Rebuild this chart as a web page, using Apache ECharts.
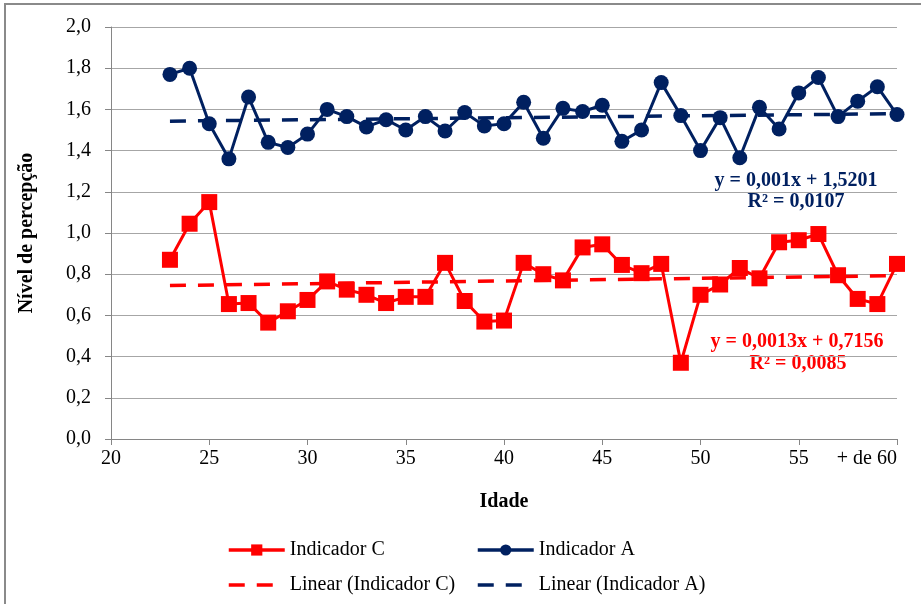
<!DOCTYPE html>
<html>
<head>
<meta charset="utf-8">
<script src="https://cdn.jsdelivr.net/npm/echarts@6/dist/echarts.min.js"></script>
<style>
html,body{margin:0;padding:0;background:#fff;}
#chart{width:921px;height:604px;}
</style>
</head>
<body>
<div id="chart"></div>
<script>
const ages = [23,24,25,26,27,28,29,30,31,32,33,34,35,36,37,38,39,40,41,42,43,44,45,46,47,48,49,50,51,52,53,54,55,56,57,58,59,60];
const indicadorA = [1.77,1.80,1.53,1.36,1.66,1.44,1.415,1.48,1.60,1.565,1.515,1.55,1.50,1.565,1.495,1.585,1.52,1.53,1.635,1.46,1.605,1.59,1.62,1.445,1.50,1.73,1.57,1.40,1.56,1.365,1.61,1.505,1.68,1.755,1.565,1.64,1.71,1.575];
const indicadorC = [0.87,1.045,1.15,0.655,0.66,0.565,0.62,0.675,0.765,0.725,0.70,0.66,0.69,0.69,0.855,0.67,0.57,0.575,0.855,0.80,0.77,0.93,0.945,0.845,0.805,0.85,0.37,0.70,0.75,0.83,0.78,0.955,0.965,0.995,0.795,0.68,0.655,0.85];
const trendAges = [23, 60];
const trendA = [1.543, 1.579];
const trendC = [0.745, 0.793];
const xTicks = {20:'20',25:'25',30:'30',35:'35',40:'40',45:'45',50:'50',55:'55',60:'+ de 60'};
const eqA = ['y = 0,001x + 1,5201', 'R² = 0,0107'];
const eqC = ['y = 0,0013x + 0,7156', 'R² = 0,0085'];

const RED = '#FF0000', BLUE = '#002060';
const FONT = '"Liberation Serif","Times New Roman",serif';
const pair = (xs, ys) => xs.map((x, i) => [x, ys[i]]);

const chart = echarts.init(document.getElementById('chart'), null, {renderer:'canvas'});
const legendBase = {
  orient:'horizontal', itemWidth:56, itemHeight:14, itemGap:5,
  textStyle:{fontFamily:FONT, fontSize:20, color:'#000'}, padding:0,
  lineStyle:{width:3.5}
};
const dashLegend = {itemStyle:{opacity:0, borderWidth:0}, lineStyle:{width:3.5, type:[16,12]}};
chart.setOption({
  animation:false,
  backgroundColor:'#fff',
  grid:{left:111, right:24, top:27, bottom:165, containLabel:false, outerBoundsMode:'none'},
  xAxis:{
    type:'value', min:20, max:60, interval:5,
    name:'Idade', nameLocation:'middle', nameGap:53,
    nameTextStyle:{fontFamily:FONT, fontSize:20, fontWeight:'bold', color:'#000'},
    axisLine:{show:true, lineStyle:{color:'#868686', width:1}},
    axisTick:{show:true, length:6, lineStyle:{color:'#868686'}},
    axisLabel:{fontFamily:FONT, fontSize:20, color:'#000', margin:10, alignMaxLabel:'right',
      formatter:v => xTicks[v] !== undefined ? xTicks[v] : ''},
    splitLine:{show:false}
  },
  yAxis:{
    type:'value', min:0, max:2, interval:0.2,
    name:'Nível de percepção', nameLocation:'middle', nameGap:74,
    nameTextStyle:{fontFamily:FONT, fontSize:20, fontWeight:'bold', color:'#000'},
    axisLine:{show:true, lineStyle:{color:'#868686', width:1}},
    axisTick:{show:true, length:6, lineStyle:{color:'#868686'}},
    axisLabel:{fontFamily:FONT, fontSize:20, color:'#000', margin:20,
      formatter:v => v.toFixed(1).replace('.', ',')},
    splitLine:{show:true, lineStyle:{color:'#a6a6a6', width:1}}
  },
  legend:[
    Object.assign({}, legendBase, {left:227, top:540, data:['Indicador C']}),
    Object.assign({}, legendBase, {left:476, top:540, data:['Indicador A']}),
    Object.assign({}, legendBase, dashLegend, {left:227, top:575, data:['Linear (Indicador C)']}),
    Object.assign({}, legendBase, dashLegend, {left:476, top:575, data:['Linear (Indicador A)']})
  ],
  series:[
    {name:'Linear (Indicador C)', type:'line', data:pair(trendAges, trendC), z:1,
      symbol:'none', lineStyle:{color:RED, width:3.5, type:[16,12]}, itemStyle:{color:RED}},
    {name:'Linear (Indicador A)', type:'line', data:pair(trendAges, trendA), z:1,
      symbol:'none', lineStyle:{color:BLUE, width:3.5, type:[16,12]}, itemStyle:{color:BLUE}},
    {name:'Indicador C', type:'line', data:pair(ages, indicadorC), z:3,
      symbol:'rect', symbolSize:16, lineStyle:{color:RED, width:3}, itemStyle:{color:RED}},
    {name:'Indicador A', type:'line', data:pair(ages, indicadorA), z:3,
      symbol:'circle', symbolSize:15, lineStyle:{color:BLUE, width:3}, itemStyle:{color:BLUE}}
  ],
  graphic:[
    {type:'rect', shape:{x:5, y:4, width:940, height:700}, style:{fill:'none', stroke:'#8a8a8a', lineWidth:2}, silent:true},
    {type:'text', x:796, y:181, style:{text:eqA[0], font:'bold 20px '+FONT, fill:BLUE, textAlign:'center', textVerticalAlign:'middle'}},
    {type:'text', x:796, y:202, style:{text:eqA[1], font:'bold 20px '+FONT, fill:BLUE, textAlign:'center', textVerticalAlign:'middle'}},
    {type:'text', x:797, y:342, style:{text:eqC[0], font:'bold 20px '+FONT, fill:RED, textAlign:'center', textVerticalAlign:'middle'}},
    {type:'text', x:798, y:364, style:{text:eqC[1], font:'bold 20px '+FONT, fill:RED, textAlign:'center', textVerticalAlign:'middle'}}
  ]
});
</script>
</body>
</html>
